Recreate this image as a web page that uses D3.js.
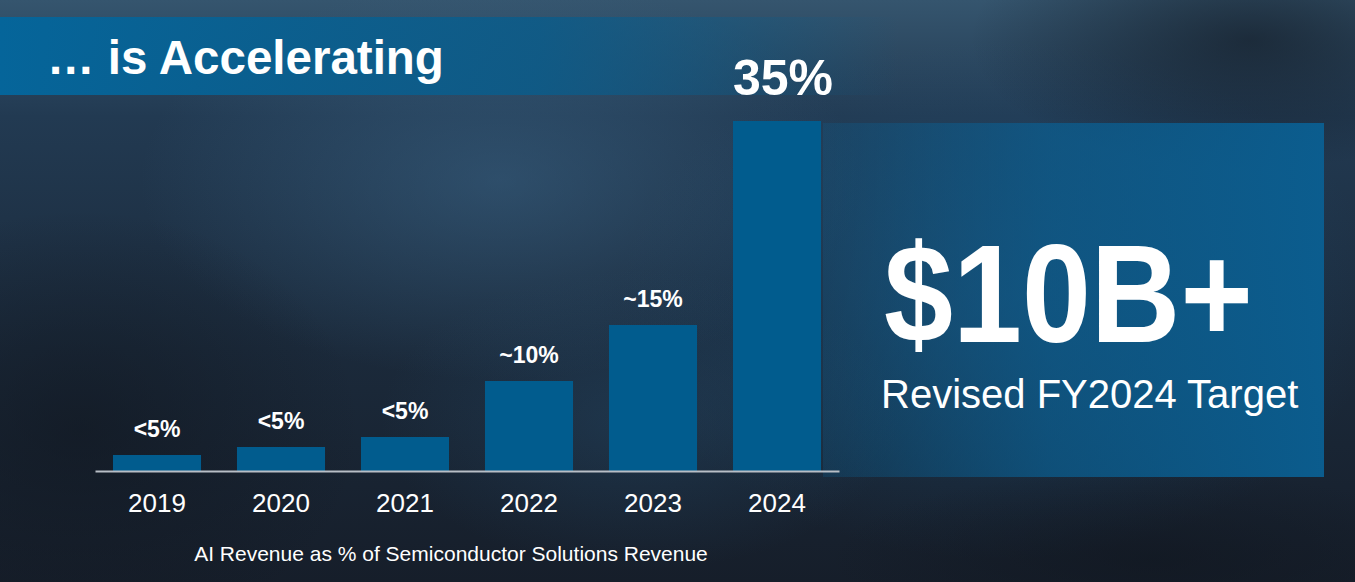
<!DOCTYPE html>
<html>
<head>
<meta charset="utf-8">
<script src="https://cdn.jsdelivr.net/npm/d3@7"></script>
<style>
  body { margin: 0; background: #18222f; }
  svg { display: block; font-family: "Liberation Sans", Arial, sans-serif; }
</style>
</head>
<body>
<svg id="chart" width="1355" height="582"></svg>
<script>
// data
var years = ["2019", "2020", "2021", "2022", "2023", "2024"];
var shares = [1.6, 2.4, 3.4, 9, 14.6, 35];
var barLabels = ["<5%", "<5%", "<5%", "~10%", "~15%", "35%"];

var title = "… is Accelerating";
var subtitle = "AI Revenue as % of Semiconductor Solutions Revenue";
var bigNumber = "$10B+";
var bigCaption = "Revised FY2024 Target";

var svg = d3.select("#chart"),
  width = +svg.attr("width"),
  height = +svg.attr("height");

var defs = svg.append("defs");

// background gradients
var bg = defs.append("linearGradient").attr("id", "bg")
  .attr("x1", 0).attr("y1", 0).attr("x2", 0).attr("y2", 1);
bg.append("stop").attr("offset", 0).attr("stop-color", "#35556e");
bg.append("stop").attr("offset", 0.2).attr("stop-color", "#223a52");
bg.append("stop").attr("offset", 0.6).attr("stop-color", "#1b2a3b");
bg.append("stop").attr("offset", 1).attr("stop-color", "#161e2a");

function glow(id, color, op) {
  var g = defs.append("radialGradient").attr("id", id);
  g.append("stop").attr("offset", 0).attr("stop-color", color).attr("stop-opacity", op);
  g.append("stop").attr("offset", 1).attr("stop-color", color).attr("stop-opacity", 0);
}
glow("glowA", "#3f6c90", 0.45);
glow("glowB", "#22608f", 0.35);
glow("glowC", "#2a5a80", 0.3);
glow("glowDark", "#10161f", 0.6);

var banner = defs.append("linearGradient").attr("id", "banner");
banner.append("stop").attr("offset", 0).attr("stop-color", "#05659a").attr("stop-opacity", 1);
banner.append("stop").attr("offset", 0.6).attr("stop-color", "#0b5c8a").attr("stop-opacity", 0.85);
banner.append("stop").attr("offset", 1).attr("stop-color", "#0b5c8a").attr("stop-opacity", 0);

var boxGrad = defs.append("linearGradient").attr("id", "box");
boxGrad.append("stop").attr("offset", 0).attr("stop-color", "#0a5f92").attr("stop-opacity", 0.25);
boxGrad.append("stop").attr("offset", 0.45).attr("stop-color", "#0a5f92").attr("stop-opacity", 0.7);
boxGrad.append("stop").attr("offset", 1).attr("stop-color", "#0a5f92").attr("stop-opacity", 0.95);

svg.append("rect").attr("width", width).attr("height", height).attr("fill", "url(#bg)");
svg.append("ellipse").attr("cx", 500).attr("cy", 180).attr("rx", 360).attr("ry", 200).attr("fill", "url(#glowA)");
svg.append("ellipse").attr("cx", 1000).attr("cy", 300).attr("rx", 380).attr("ry", 260).attr("fill", "url(#glowB)");
svg.append("ellipse").attr("cx", 640).attr("cy", 420).attr("rx", 260).attr("ry", 150).attr("fill", "url(#glowC)");
svg.append("ellipse").attr("cx", 80).attr("cy", 430).attr("rx", 280).attr("ry", 220).attr("fill", "url(#glowDark)");
svg.append("ellipse").attr("cx", 1250).attr("cy", 40).attr("rx", 280).attr("ry", 130).attr("fill", "url(#glowDark)");
svg.append("ellipse").attr("cx", 1150).attr("cy", 560).attr("rx", 320).attr("ry", 90).attr("fill", "url(#glowDark)");

// title banner
svg.append("rect")
  .attr("x", 0).attr("y", 17)
  .attr("width", 900).attr("height", 78)
  .attr("fill", "url(#banner)");

svg.append("text")
  .attr("x", 47).attr("y", 74)
  .attr("fill", "#fff")
  .attr("font-size", 47.5)
  .attr("font-weight", "bold")
  .text(title);

// right callout box
svg.append("rect")
  .attr("x", 823).attr("y", 123)
  .attr("width", 501).attr("height", 354)
  .attr("fill", "url(#box)");

svg.append("text")
  .attr("transform", "translate(884,342) scale(1,1.12)")
  .attr("fill", "#fff")
  .attr("font-size", 124)
  .attr("font-weight", "bold")
  .text(bigNumber);

svg.append("text")
  .attr("x", 881).attr("y", 408)
  .attr("fill", "#fff")
  .attr("font-size", 40)
  .text(bigCaption);

// scales
var x = d3.scaleBand()
  .domain(years)
  .range([95, 839])
  .paddingInner(0.29)
  .paddingOuter(0.145);

var y = d3.scaleLinear()
  .domain([0, 35])
  .range([471, 121]);

var data = years.map(function (d, i) {
  return { year: d, value: shares[i], label: barLabels[i] };
});

svg.selectAll("rect.bar")
  .data(data)
  .enter()
  .append("rect")
  .attr("class", "bar")
  .attr("x", function (d) { return x(d.year); })
  .attr("y", function (d) { return y(d.value); })
  .attr("width", x.bandwidth())
  .attr("height", function (d) { return y(0) - y(d.value); })
  .attr("fill", "#015c8e");

svg.selectAll("text.val")
  .data(data)
  .enter()
  .append("text")
  .attr("class", "val")
  .attr("x", function (d, i) { return x(d.year) + x.bandwidth() / 2 + (i === data.length - 1 ? 6 : 0); })
  .attr("y", function (d, i) { return y(d.value) - (i === data.length - 1 ? 26 : 18); })
  .attr("text-anchor", "middle")
  .attr("fill", "#fff")
  .attr("font-weight", "bold")
  .attr("font-size", function (d, i) { return i === data.length - 1 ? 50 : 23; })
  .text(function (d) { return d.label; });

// x axis
var xAxis = svg.append("g")
  .attr("transform", "translate(0," + y(0) + ")")
  .call(d3.axisBottom(x).tickSize(0).tickPadding(41).tickSizeOuter(0));

xAxis.select(".domain")
  .attr("stroke", "#b8bec6")
  .attr("stroke-width", 2);
xAxis.selectAll(".tick text")
  .attr("fill", "#fff")
  .attr("font-size", 26)
  .attr("font-family", "Liberation Sans, Arial, sans-serif")
  .attr("dy", 0);

svg.append("text")
  .attr("x", 451).attr("y", 561)
  .attr("text-anchor", "middle")
  .attr("fill", "#fff")
  .attr("font-size", 21)
  .text(subtitle);
</script>
</body>
</html>
